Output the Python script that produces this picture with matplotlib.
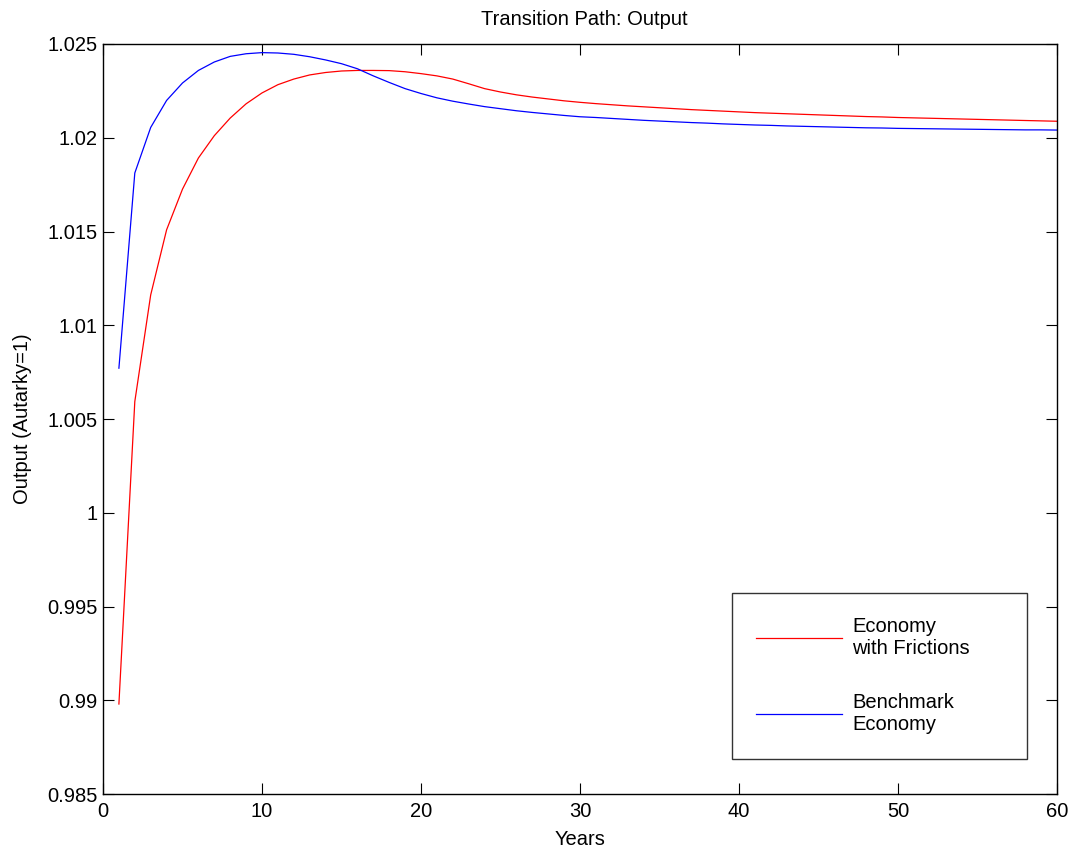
import matplotlib
matplotlib.use("Agg")
import matplotlib.pyplot as plt

plt.rcParams['font.family'] = ['Liberation Sans', 'DejaVu Sans']

years = list(range(1, 61))

frictions = [
    0.98980, 1.00593, 1.01162, 1.01509, 1.01726, 1.01892, 1.02011, 1.02105, 1.02181, 1.02239,
    1.02283, 1.02313, 1.02335, 1.02348, 1.02356, 1.02359, 1.02359, 1.02358, 1.02352, 1.02342,
    1.02330, 1.02313, 1.02288, 1.02262, 1.02244, 1.02229, 1.02217, 1.02207, 1.02197, 1.02189,
    1.02182, 1.02176, 1.02170, 1.02165, 1.02160, 1.02155, 1.02150, 1.02146, 1.02142, 1.02138,
    1.02134, 1.02131, 1.02128, 1.02125, 1.02122, 1.02119, 1.02116, 1.02113, 1.02111, 1.02108,
    1.02106, 1.02104, 1.02102, 1.02100, 1.02098, 1.02096, 1.02094, 1.02092, 1.02090, 1.02088,
]

benchmark = [
    1.00771, 1.01812, 1.02055, 1.02199, 1.02292, 1.02359, 1.02404, 1.02434, 1.02448, 1.02454,
    1.02452, 1.02445, 1.02432, 1.02415, 1.02395, 1.02368, 1.02330, 1.02295, 1.02262, 1.02236,
    1.02213, 1.02195, 1.02180, 1.02166, 1.02155, 1.02144, 1.02135, 1.02127, 1.02119, 1.02112,
    1.02108, 1.02103, 1.02098, 1.02093, 1.02089, 1.02085, 1.02081, 1.02078, 1.02074, 1.02071,
    1.02068, 1.02066, 1.02063, 1.02061, 1.02059, 1.02057, 1.02055, 1.02053, 1.02052, 1.02050,
    1.02049, 1.02048, 1.02047, 1.02046, 1.02045, 1.02044, 1.02043, 1.02042, 1.02042, 1.02041,
]

labels = ["Economy\nwith Frictions", "Benchmark\nEconomy"]
xticks = [0, 10, 20, 30, 40, 50, 60]
yticks = [0.985, 0.99, 0.995, 1.0, 1.005, 1.01, 1.015, 1.02, 1.025]
yticklabels = ["0.985", "0.99", "0.995", "1", "1.005", "1.01", "1.015", "1.02", "1.025"]

FS = 14.5
fig = plt.figure(figsize=(10.73, 8.56), dpi=100)
ax = fig.add_axes([0.096, 0.0724, 0.889, 0.8762])

ax.plot(years, frictions, color='#ff0000', lw=0.9, label=labels[0])
ax.plot(years, benchmark, color='#0000ff', lw=0.9, label=labels[1])

ax.set_xlim(0, 60)
ax.set_ylim(0.985, 1.025)
ax.set_xticks(xticks)
ax.set_xticklabels([str(v) for v in xticks])
ax.set_yticks(yticks)
ax.set_yticklabels(yticklabels)
ax.tick_params(direction='in', length=8, width=0.8, top=True, right=True,
               labelsize=FS)
ax.tick_params(axis='x', pad=6)
ax.tick_params(axis='y', pad=4)
for s in ax.spines.values():
    s.set_linewidth(1.0)

ax.set_xlabel("Years", fontsize=FS, labelpad=6)
ax.set_ylabel("Output (Autarky=1)", fontsize=FS, labelpad=11)
ax.set_title("Transition Path: Output", fontsize=FS, pad=14, x=0.505)

leg = ax.legend(loc='upper left', bbox_to_anchor=(0.659, 0.268, 0.31, 0.0),
                mode='expand', fontsize=FS, frameon=True, fancybox=False,
                edgecolor='black', handlelength=4.3, handletextpad=0.5,
                labelspacing=1.75, borderpad=1.2, borderaxespad=0.0)
leg.get_frame().set_linewidth(1.0)

fig.savefig("out.png", dpi=100)
